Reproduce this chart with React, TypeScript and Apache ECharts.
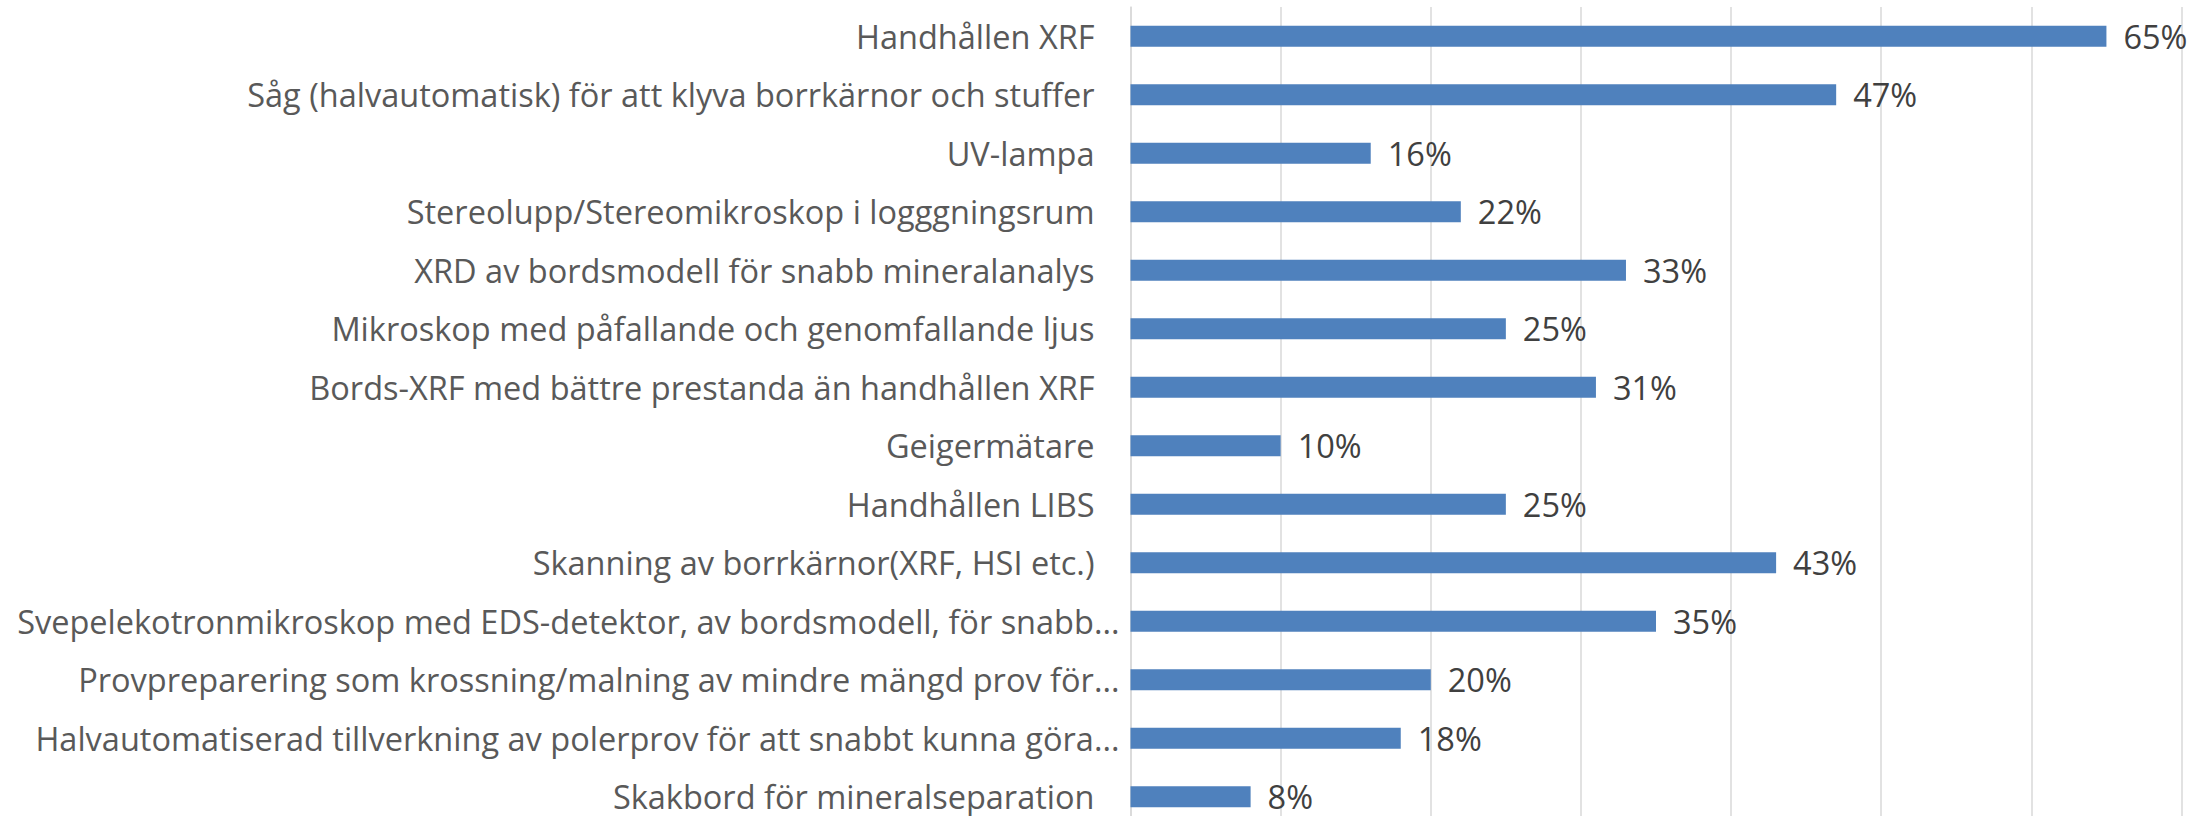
import React, { useEffect, useRef } from "react";
import * as echarts from "echarts";

const categories: string[] = [
  "Handhållen XRF",
  "Såg (halvautomatisk) för att klyva borrkärnor och stuffer",
  "UV-lampa",
  "Stereolupp/Stereomikroskop i logggningsrum",
  "XRD av bordsmodell för snabb mineralanalys",
  "Mikroskop med påfallande och genomfallande ljus",
  "Bords-XRF med bättre prestanda än handhållen XRF",
  "Geigermätare",
  "Handhållen LIBS",
  "Skanning av borrkärnor(XRF, HSI etc.)",
  "Svepelekotronmikroskop med EDS-detektor, av bordsmodell, för snabb...",
  "Provpreparering som krossning/malning av mindre mängd prov för...",
  "Halvautomatiserad tillverkning av polerprov för att snabbt kunna göra...",
  "Skakbord för mineralseparation",
];

const values: number[] = [65, 47, 16, 22, 33, 25, 31, 10, 25, 43, 35, 20, 18, 8];

const axisMax = 70;
const axisInterval = 10;

const FONT = "Open Sans";
const FS = 32.5;

export default function App() {
  const ref = useRef<HTMLDivElement>(null);
  useEffect(() => {
    if (!ref.current) return;
    const chart = echarts.init(ref.current, undefined, { renderer: "svg" });
    chart.setOption({
      animation: false,
      backgroundColor: "#ffffff",
      grid: { left: 1130.5, right: 27.5, top: 7, bottom: 0, containLabel: false },
      xAxis: {
        type: "value",
        min: 0,
        max: axisMax,
        interval: axisInterval,
        axisLabel: { show: false },
        axisLine: { show: false },
        axisTick: { show: false },
        splitLine: { show: true, lineStyle: { color: "#D9D9D9", width: 1.5 } },
      },
      yAxis: {
        type: "category",
        data: categories,
        inverse: true,
        axisLine: { show: true, lineStyle: { color: "#D9D9D9", width: 1.5 } },
        axisTick: { show: false },
        axisLabel: {
          margin: 11,
          fontFamily: FONT,
          fontSize: FS,
          color: "#595959",
          formatter: (v: string) => (v.endsWith("...") ? `{t|${v}}` : `{n|${v}}`),
          rich: {
            n: { fontFamily: FONT, fontSize: FS, color: "#595959", padding: [0, 25, 0, 0] },
            t: { fontFamily: FONT, fontSize: FS, color: "#595959" },
          },
        },
      },
      series: [
        {
          type: "bar",
          data: values,
          barWidth: 21,
          itemStyle: { color: "#4F81BD" },
          label: {
            show: true,
            position: "right",
            distance: 17,
            formatter: (p: any) => `${p.value}%`,
            fontFamily: FONT,
            fontSize: FS,
            color: "#404040",
          },
        },
      ],
    });
    return () => chart.dispose();
  }, []);
  return (
    <div
      ref={ref}
      style={{ position: "fixed", left: 0, top: 0, width: 2209, height: 826, background: "#fff" }}
    />
  );
}
